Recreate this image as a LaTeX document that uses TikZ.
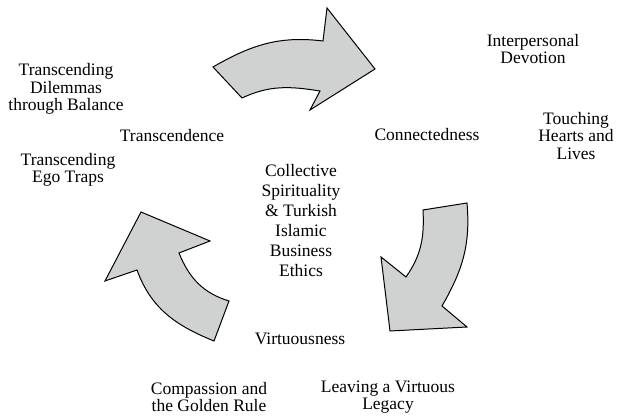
\documentclass[tikz,border=0pt]{standalone}
\usepackage{fontspec}
\setmainfont{Liberation Serif}
\definecolor{arrowgray}{RGB}{208,210,210}
\tikzset{cyclearrow/.style={fill=arrowgray, draw=black, line width=0.5pt, line join=miter},
  theme/.style={align=center, inner sep=0pt, font=\fontsize{8.75}{8.8}\selectfont},
  hub/.style={theme, font=\fontsize{8.75}{10}\selectfont}}

\begin{document}
\begin{tikzpicture}[x=0.5pt, y=0.5pt]
            \useasboundingbox (0,0) rectangle (622,416);
            % Cycle arrows
            \draw[cyclearrow] (213,349) to[out=30, in=173] (323,375) -- (327,408) -- (375,347) -- (310,306) -- (320,325) to[out=171, in=25] (242,318) -- cycle;
            \draw[cyclearrow] (423,206) to[out=-87, in=55] (406,139) -- (381,159) -- (390,85) -- (467,89) -- (442,110) to[out=60, in=-85] (467,213) -- cycle;
            \draw[cyclearrow] (141,204) -- (210,175) -- (179,163) to[out=-68, in=163] (229,115) -- (214,75) to[out=158, in=-70] (137,146) -- (105,135) -- cycle;
            % Centre
            \node[hub] (core) at (301,195) {Collective\\Spirituality\\\& Turkish\\Islamic\\Business\\Ethics};
            % Dimensions
            \node[theme] (transcendence) at (172,280) {Transcendence};
            \node[theme] (connectedness) at (427,281) {Connectedness};
            \node[theme] (virtuousness) at (300,77) {Virtuousness};
            % Facets
            \node[theme] (dilemmas) at (66,327) {Transcending\\Dilemmas\\through Balance};
            \node[theme] (egotraps) at (68,246) {Transcending\\Ego Traps};
            \node[theme] (devotion) at (533,367) {Interpersonal\\Devotion};
            \node[theme] (hearts) at (576,280) {Touching\\Hearts and\\Lives};
            \node[theme] (compassion) at (209,19) {Compassion and\\the Golden Rule};
            \node[theme] (legacy) at (388,19) {Leaving a Virtuous\\Legacy};
        \end{tikzpicture}
\end{document}
